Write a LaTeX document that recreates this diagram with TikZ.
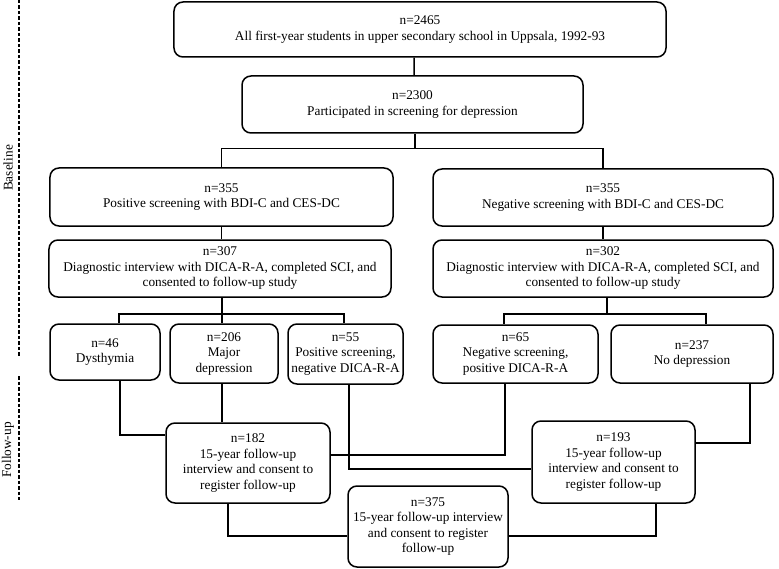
\documentclass[tikz,border=0pt]{standalone}
\usepackage{fontspec}
\setmainfont{Liberation Serif}
\begin{document}
\begin{tikzpicture}[x=1bp,y=-1bp,
  box/.style={draw, rounded corners=9bp, line width=1.5bp, align=center, inner sep=0pt,
    font=\fontsize{13.3bp}{15.5bp}\selectfont},
  conn/.style={line width=1.5bp},
  sidelbl/.style={rotate=90, font=\fontsize{13.3bp}{15.5bp}\selectfont, inner sep=0pt},
  sideline/.style={line width=1.4bp, dash pattern=on 3.5bp off 2bp}]
\useasboundingbox (0,0) rectangle (779,569);

% boxes
\node[box, minimum width=492bp, minimum height=55bp] (top) at (420,29.5) {n=2465\\All first-year students in upper secondary school in Uppsala, 1992-93};
\node[box, minimum width=341bp, minimum height=57bp] (b2300) at (412.5,104.5) {n=2300\\Participated in screening for depression};
\node[box, minimum width=343bp, minimum height=58bp] (pos355) at (221.5,197) {n=355\\Positive screening with BDI-C and CES-DC};
\node[box, minimum width=340bp, minimum height=57bp] (neg355) at (603,197.5) {n=355\\Negative screening with BDI-C and CES-DC};
\node[box, minimum width=342bp, minimum height=57bp] (pos307) at (220,268.5) {n=307\\Diagnostic interview with DICA-R-A, completed SCI, and\\consented to follow-up study};
\node[box, minimum width=340bp, minimum height=57bp] (neg302) at (603,268.5) {n=302\\Diagnostic interview with DICA-R-A, completed SCI, and\\consented to follow-up study};
\node[box, minimum width=110bp, minimum height=56bp] (dys) at (105,352) {n=46\\Dysthymia};
\node[box, minimum width=108bp, minimum height=59bp] (maj) at (224,353.5) {n=206\\Major\\depression};
\node[box, minimum width=115bp, minimum height=60bp] (pos55) at (345.5,354) {n=55\\Positive screening,\\negative DICA-R-A};
\node[box, minimum width=165bp, minimum height=58bp] (neg65) at (515.5,354) {n=65\\Negative screening,\\positive DICA-R-A};
\node[box, minimum width=162bp, minimum height=58bp] (nodep) at (692,354) {n=237\\No depression};
\node[box, minimum width=164bp, minimum height=80bp] (f182) at (248,463) {n=182\\15-year follow-up\\interview and consent to\\register follow-up};
\node[box, minimum width=163bp, minimum height=82bp] (f193) at (613.5,462) {n=193\\15-year follow-up\\interview and consent to\\register follow-up};
\node[box, minimum width=160bp, minimum height=81bp] (f375) at (428,526.5) {n=375\\15-year follow-up interview\\and consent to register\\follow-up};

% connectors
\draw[conn] ([xshift=-6bp]top.south) -- ([xshift=1.5bp]b2300.north);
\draw[conn] ([xshift=2.5bp]b2300.south) -- ++(0,15) coordinate (sb) -| (pos355.north);
\draw[conn] (sb) -| (neg355.north);
\draw[conn] (pos355.south) -- (pos355.south |- pos307.north);
\draw[conn] (neg355.south) -- (neg355.south |- neg302.north);
\draw[conn] ([xshift=2bp]pos307.south) -- ++(0,16) coordinate (lb) -| ([xshift=14bp]dys.north);
\draw[conn] (lb) -| ([xshift=-2bp]maj.north);
\draw[conn] (lb) -| ([xshift=-1.5bp]pos55.north);
\draw[conn] ([xshift=4bp]neg302.south) -- ++(0,16) coordinate (rb) -| ([xshift=-11.5bp]neg65.north);
\draw[conn] (rb) -| ([xshift=14bp]nodep.north);
\draw[conn] ([xshift=15bp]dys.south) |- ([yshift=28bp]f182.west);
\draw[conn] ([xshift=-2bp]maj.south) -- ([xshift=-2bp]maj.south |- f182.north);
\draw[conn] ([xshift=3.5bp]pos55.south) |- ([yshift=-7bp]f193.west);
\draw[conn] ([xshift=-10.5bp]neg65.south) |- ([yshift=8bp]f182.east);
\draw[conn] ([xshift=58bp]nodep.south) |- ([yshift=19bp]f193.east);
\draw[conn] ([xshift=-20bp]f182.south) |- ([yshift=-9.5bp]f375.west);
\draw[conn] ([xshift=42.5bp]f193.south) |- ([yshift=-9.5bp]f375.east);

% side labels
\node[sidelbl] (lblbase) at (8,168) {Baseline};
\node[sidelbl] (lblfu) at (8,450) {Follow-up};
\coordinate (d1) at (19,0);
\coordinate (d2) at (19,357);
\coordinate (d3) at (19,376);
\coordinate (d4) at (19,500);
\draw[sideline] (d1) -- (d2);
\draw[sideline] (d3) -- (d4);
\end{tikzpicture}
\end{document}
